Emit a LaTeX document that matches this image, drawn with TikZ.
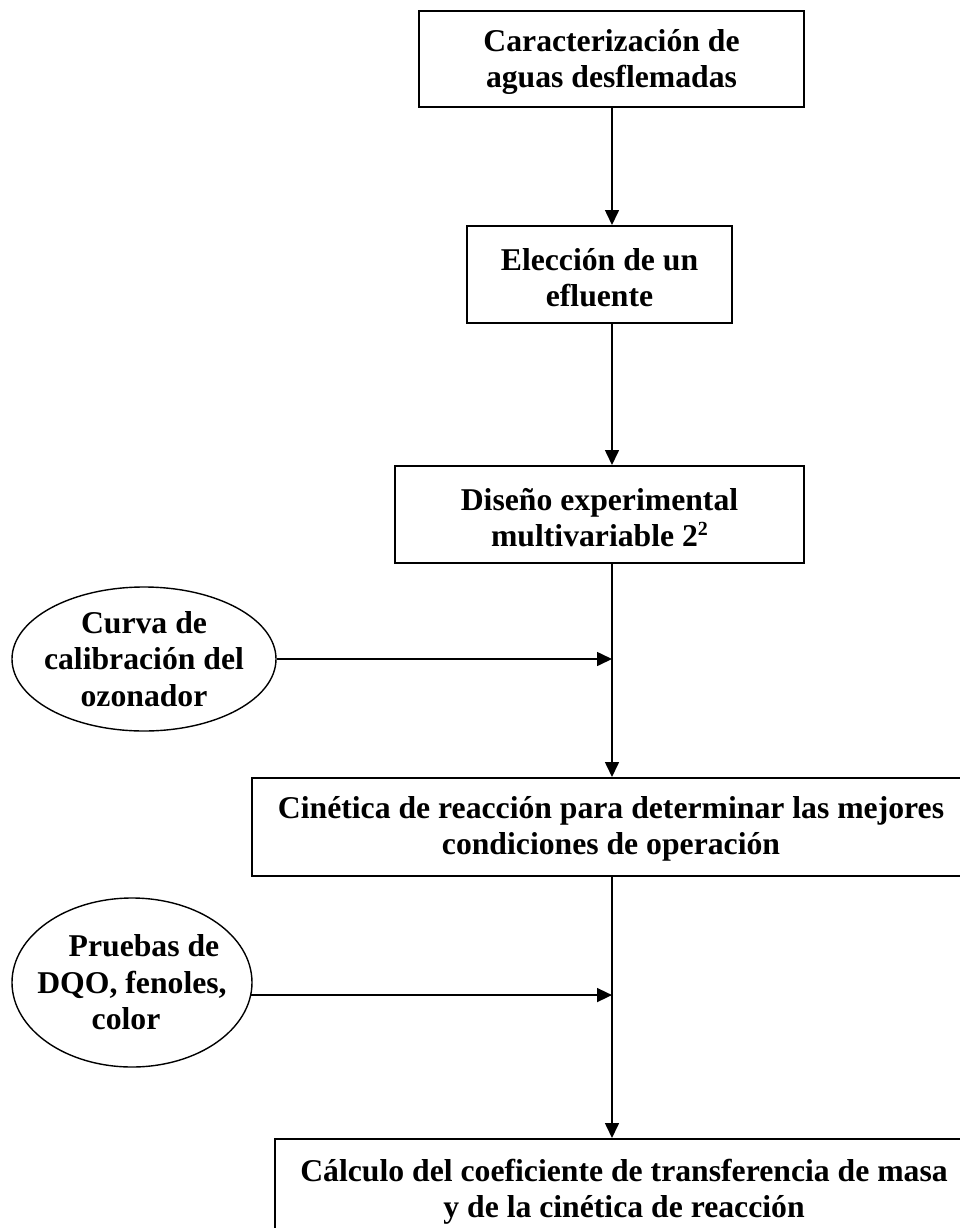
\documentclass[tikz,border=0pt]{standalone}
\usepackage{fontspec}
\setmainfont{Liberation Serif}
\usetikzlibrary{arrows.meta,shapes.geometric}
\begin{document}
\begin{tikzpicture}[x=1pt,y=-1pt,
  txt/.style={font=\fontsize{31.7}{36.4}\selectfont\bfseries, align=center, inner sep=0pt},
  box/.style={draw, line width=2pt, rectangle, inner sep=0pt},
  oval/.style={txt, draw, ellipse, line width=1.4pt, inner sep=-30pt},
  conn/.style={line width=1.6pt, -{Triangle[length=15pt,width=14pt]}}]
\useasboundingbox (0,0) rectangle (960,1228);
\clip (0,0) rectangle (960,1228);
\fill[white] (0,0) rectangle (960,1228);
\coordinate (sp) at (612,0);
\node[box, minimum width=385pt, minimum height=96pt] (b1) at (611.5,59) {};
\node[box, minimum width=265pt, minimum height=97pt] (b2) at (599.5,274.5) {};
\node[box, minimum width=409pt, minimum height=97pt] (b3) at (599.5,514.5) {};
\node[box, minimum width=718pt, minimum height=98pt] (b4) at (611,827) {};
\node[box, minimum width=698pt, minimum height=97pt] (b5) at (624,1187.5) {};
\node[txt] (t1) at ([yshift=-3pt]b1.center) {Caracterización de\\aguas desflemadas};
\node[txt] (t2) at ([yshift=-3pt]b2.center) {Elección de un\\efluente};
\node[txt] (t3) at ([yshift=-3pt]b3.center) {Diseño experimental\\multivariable 2\raisebox{11pt}{\fontsize{20}{20}\selectfont 2}};
\node[txt] (t4) at ([yshift=-2pt]b4.center) {Cinética de reacción para determinar las mejores\\condiciones de operación};
\node[txt] (t5) at ([yshift=-4pt]b5.center) {Cálculo del coeficiente de transferencia de masa\\y de la cinética de reacción};
\node[oval, minimum width=264pt, minimum height=144pt] (e1) at (144,659) {Curva de\\calibración del\\ozonador};
\node[oval, minimum width=240pt, minimum height=169pt] (e2) at (132,982.5) {\hspace*{24pt}Pruebas de\\DQO, fenoles,\\color\hspace*{12pt}};
\draw[conn] (b1.south -| sp) -- (b2.north -| sp);
\draw[conn] (b2.south -| sp) -- (b3.north -| sp);
\draw[conn] (b3.south -| sp) -- (b4.north -| sp);
\draw[conn] (e1.east) -- (e1.east -| sp);
\draw[conn] (b4.south -| sp) -- (b5.north -| sp);
\draw[conn] (e2.-6) -- (e2.-6 -| sp);
\end{tikzpicture}
\end{document}
